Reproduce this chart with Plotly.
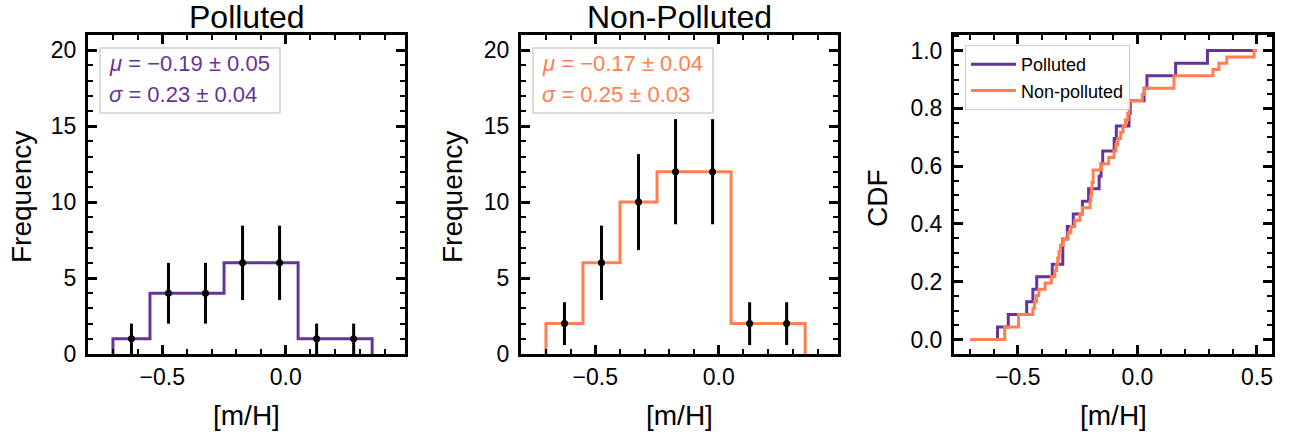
import numpy as np
import plotly.graph_objects as go

W, H = 1291, 437
def px(x):
    return x / W
def py(y):
    return 1 - y / H

# ---------------- data ----------------
bin_edges = [-0.70, -0.55, -0.40, -0.25, -0.10, 0.05, 0.20, 0.35]
bin_centers = [-0.625, -0.475, -0.325, -0.175, -0.025, 0.125, 0.275]
polluted_counts = [1, 4, 4, 6, 6, 1, 1]
polluted_err = [1.0, 2.0, 2.0, 2.45, 2.45, 1.0, 1.0]
nonpolluted_counts = [2, 6, 10, 12, 12, 2, 2]
nonpolluted_err = [1.41, 2.45, 3.16, 3.46, 3.46, 1.41, 1.41]

polluted_stats = ["\u22120.19 \u00b1 0.05", "0.23 \u00b1 0.04"]
nonpolluted_stats = ["\u22120.17 \u00b1 0.04", "0.25 \u00b1 0.03"]

cdf_start, cdf_end = -0.70, 0.50
n_polluted = 23
polluted_cdf_x = [-0.585, -0.540, -0.463, -0.437, -0.421, -0.356, -0.312, -0.293,
                  -0.268, -0.230, -0.204, -0.160, -0.152, -0.145, -0.097, -0.088,
                  -0.035, -0.030, 0.028, 0.040, 0.160, 0.293]
polluted_cdf_n = [1, 2, 3, 4, 5, 6, 8, 9, 10, 11, 12, 13, 14, 15, 16, 17,
                  18, 19, 20, 21, 22, 23]
n_nonpolluted = 46
nonpolluted_cdf_x = [-0.555, -0.497, -0.437, -0.430, -0.422, -0.412, -0.386, -0.360,
                     -0.345, -0.338, -0.333, -0.328, -0.322, -0.310, -0.290, -0.278,
                     -0.262, -0.240, -0.230, -0.198, -0.195, -0.192, -0.190, -0.185,
                     -0.150, -0.120, -0.098, -0.090, -0.082, -0.070, -0.060, -0.050,
                     -0.040, -0.035, 0.020, 0.030, 0.153, 0.316, 0.341, 0.374, 0.488]
nonpolluted_cdf_n = [2, 4, 5, 6, 7, 8, 9, 10, 11, 12, 13, 14, 15, 16, 17, 18,
                     19, 20, 21, 22, 23, 24, 25, 27, 28, 29, 30, 31, 32, 33, 34, 35,
                     36, 38, 39, 40, 42, 43, 44, 45, 46]

PURPLE = "#663399"
ORANGE = "#FF7F50"
FONT = "Liberation Sans, Arial, sans-serif"

def hist_outline(edges, counts):
    xs = [edges[0]] + list(edges[:-1]) + [edges[-1]]
    ys = [0] + list(counts) + [0]
    return xs, ys

def cdf_outline(xj, nj, n):
    xs = [cdf_start] + list(xj) + [cdf_end]
    lv = [v / n for v in nj]
    ys = [0.0] + lv + [lv[-1]]
    return xs, ys

fig = go.Figure()

for i, (counts, err, col) in enumerate([(polluted_counts, polluted_err, PURPLE),
                                        (nonpolluted_counts, nonpolluted_err, ORANGE)]):
    ax = "" if i == 0 else "2"
    hx, hy = hist_outline(bin_edges, counts)
    fig.add_trace(go.Scatter(x=hx, y=hy, mode="lines", line=dict(color=col, width=3, shape="hv"),
                             xaxis="x" + ax, yaxis="y" + ax, showlegend=False))
    fig.add_trace(go.Scatter(x=bin_centers, y=counts, mode="markers",
                             marker=dict(color="black", size=7),
                             error_y=dict(type="data", array=err, color="black", thickness=3, width=0),
                             xaxis="x" + ax, yaxis="y" + ax, showlegend=False))

cx, cy = cdf_outline(polluted_cdf_x, polluted_cdf_n, n_polluted)
fig.add_trace(go.Scatter(x=cx, y=cy, mode="lines", name="Polluted",
                         line=dict(color=PURPLE, width=3, shape="hv"), xaxis="x3", yaxis="y3"))
cx, cy = cdf_outline(nonpolluted_cdf_x, nonpolluted_cdf_n, n_nonpolluted)
fig.add_trace(go.Scatter(x=cx, y=cy, mode="lines", name="Non-polluted",
                         line=dict(color=ORANGE, width=3, shape="hv"), xaxis="x3", yaxis="y3"))

def axstyle(**kw):
    d = dict(showline=True, linewidth=3, linecolor="black", mirror="allticks",
             ticks="inside", ticklen=9, tickwidth=2.5, tickcolor="black",
             showgrid=False, zeroline=False, automargin=False,
             tickfont=dict(family=FONT, size=23, color="black"))
    d.update(kw)
    return d

ydom = [py(354), py(35)]
panels = [(88, 405), (521, 838), (954, 1272)]

layout = dict(width=W, height=H, autosize=False,
              margin=dict(l=0, r=0, t=0, b=0, pad=0, autoexpand=False),
              plot_bgcolor="white", paper_bgcolor="white",
              font=dict(family=FONT, color="black"))
for i, (l, r) in enumerate(panels):
    s = "" if i == 0 else str(i + 1)
    if i < 2:
        layout["xaxis" + s] = axstyle(domain=[px(l), px(r)], anchor="y" + s, range=[-0.801, 0.483],
                                      dtick=0.5, tick0=0, tickformat=".1f", ticklabelstandoff=0,
                                      minor=dict(ticks="inside", ticklen=5, tickwidth=2,
                                                 tickcolor="black", dtick=0.1))
        layout["yaxis" + s] = axstyle(domain=ydom, anchor="x" + s, range=[0, 21], dtick=5, tick0=0,
                                      ticklabelstandoff=4,
                                      minor=dict(ticks="inside", ticklen=5, tickwidth=2,
                                                 tickcolor="black", dtick=1))
    else:
        layout["xaxis" + s] = axstyle(domain=[px(l), px(r)], anchor="y" + s, range=[-0.767, 0.563],
                                      dtick=0.5, tick0=0, tickformat=".1f", ticklabelstandoff=0,
                                      minor=dict(ticks="inside", ticklen=5, tickwidth=2,
                                                 tickcolor="black", dtick=0.1))
        layout["yaxis" + s] = axstyle(domain=ydom, anchor="x" + s, range=[-0.05, 1.054], dtick=0.2,
                                      tick0=0, tickformat=".1f", ticklabelstandoff=4,
                                      minor=dict(ticks="inside", ticklen=5, tickwidth=2,
                                                 tickcolor="black", dtick=0.05))

layout["legend"] = dict(x=px(965), y=py(45), xanchor="left", yanchor="top",
                        bgcolor="rgba(255,255,255,0.85)", bordercolor="#cccccc", borderwidth=1,
                        itemwidth=45, tracegroupgap=0,
                        font=dict(family=FONT, size=18, color="black"))

ann = []
shapes = []
def A(x, y, text, size, **kw):
    d = dict(x=px(x), y=py(y), xref="paper", yref="paper", text=text, showarrow=False,
             xanchor=kw.pop("xanchor", "center"), yanchor="middle",
             font=dict(family=FONT, size=size, color=kw.pop("color", "black")))
    d.update(kw)
    ann.append(d)

# titles
A(246.5, 17, "Polluted", 32)
A(679.5, 17, "Non-Polluted", 32)
# axis titles
for (l, r) in panels:
    A((l + r) / 2, 415, "[m/H]", 28)
A(21, 197, "Frequency", 28, textangle=-90)
A(452, 197, "Frequency", 28, textangle=-90)
A(877, 198, "CDF", 28, textangle=-90)

# stat boxes
for (l, r), stats, col in zip(panels[:2], [polluted_stats, nonpolluted_stats], [PURPLE, ORANGE]):
    bx0 = l + 12
    shapes.append(dict(type="rect", xref="paper", yref="paper", x0=px(bx0), x1=px(bx0 + 180),
                       y0=py(113), y1=py(48), line=dict(color="#d0d0d0", width=1.5),
                       fillcolor="rgba(255,255,255,0.8)", layer="above"))
    A(bx0 + 7, 64, "<i>\u03bc</i> = " + stats[0], 22, color=col, xanchor="left")
    A(bx0 + 7, 95, "<i>\u03c3</i> = " + stats[1], 22, color=col, xanchor="left")

layout["annotations"] = ann
layout["shapes"] = shapes
fig.update_layout(**layout)
fig.write_html("out.html")
